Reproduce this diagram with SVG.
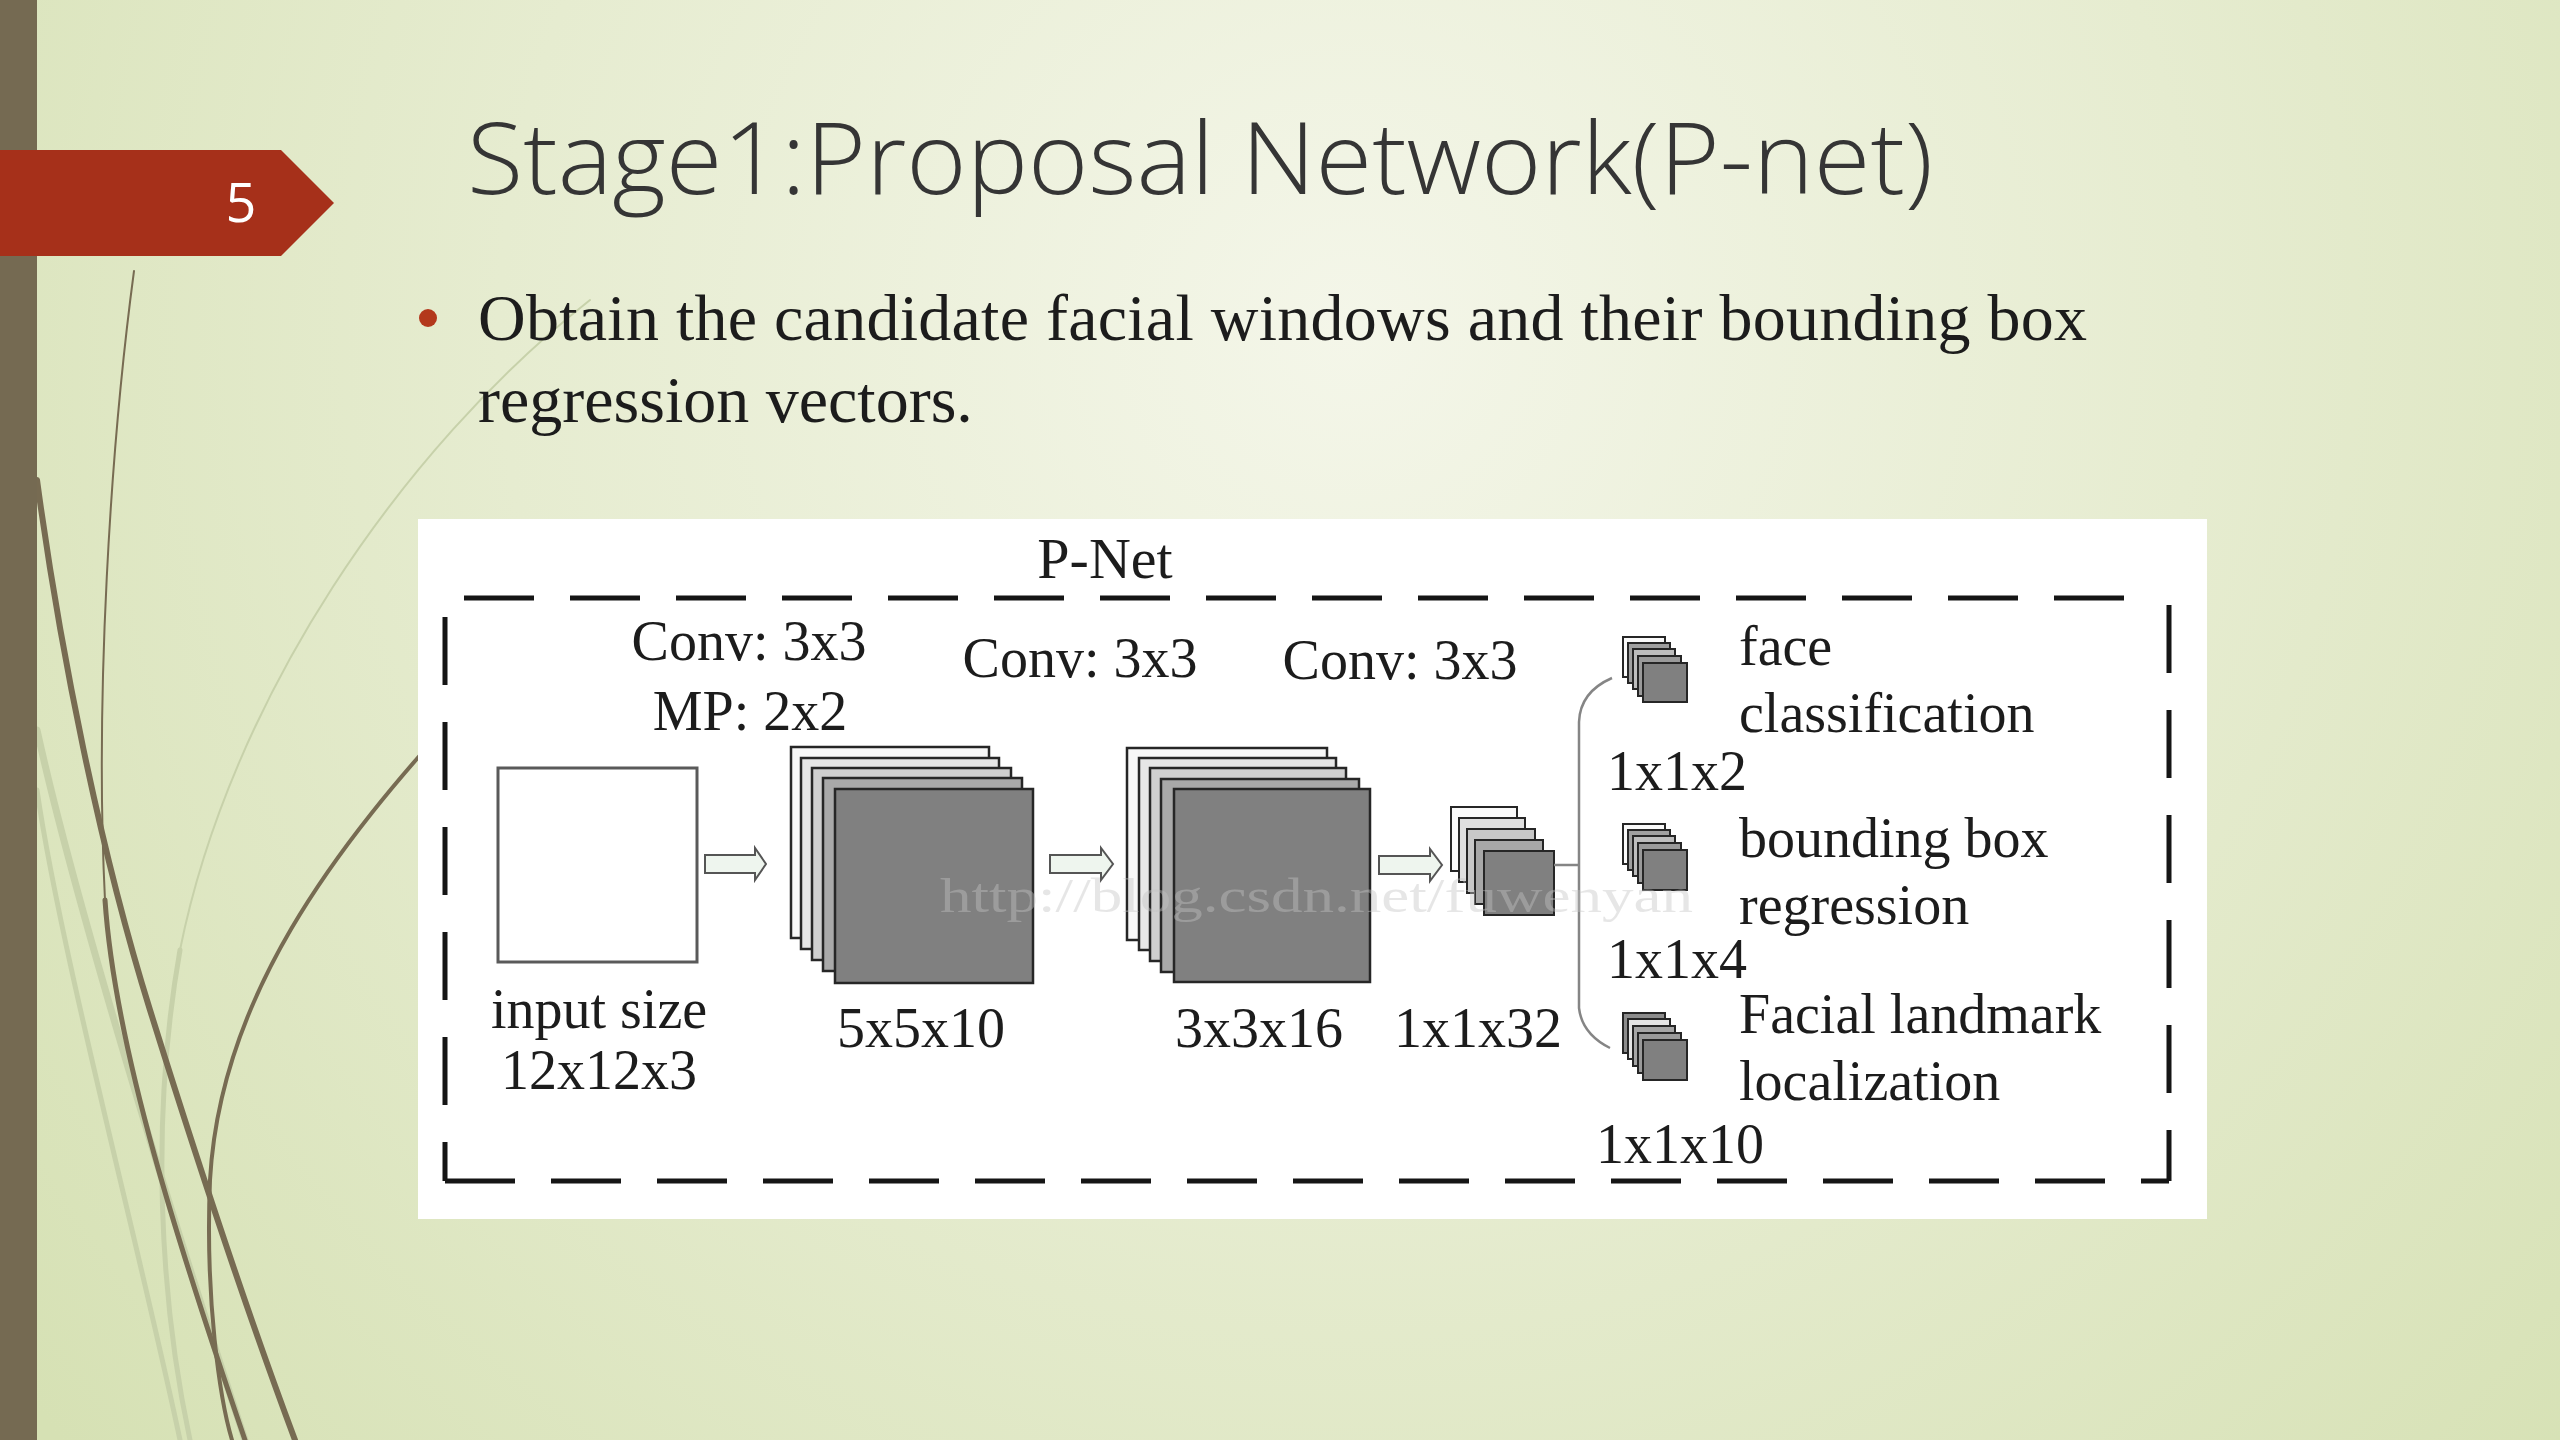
<svg xmlns="http://www.w3.org/2000/svg" width="2560" height="1440" viewBox="0 0 2560 1440">
<defs>
<radialGradient id="bg" cx="1350" cy="330" r="1700" gradientUnits="userSpaceOnUse">
<stop offset="0" stop-color="#f4f6e9"/>
<stop offset="0.5" stop-color="#e6ecd0"/>
<stop offset="1" stop-color="#d6e1b4"/>
</radialGradient>
<style>
.serif{font-family:"Liberation Serif","Times New Roman",serif;fill:#1c1c1c}
.d{font-size:56px}
.mid{text-anchor:middle}
.lay{stroke:#262626;stroke-width:2.5}
.sl{stroke:#262626;stroke-width:2}
.arr{fill:#eef5ee;stroke:#555;stroke-width:2}
.dash{fill:none;stroke:#151515;stroke-width:5}
.brown{fill:none;stroke:#776b52;stroke-linecap:round}
.green{fill:none;stroke:#c7d1aa;stroke-linecap:round}
.wm{font-family:"Liberation Serif","Times New Roman",serif;font-size:48px;fill:#c4c4c4;fill-opacity:0.42}
</style>
</defs>
<rect x="0" y="0" width="2560" height="1440" fill="url(#bg)"/>
<g id="decor">
<path class="green" stroke-width="7" d="M37,730 C70,880 150,1150 245,1440"/>
<path class="green" stroke-width="5" d="M37,790 C60,950 140,1250 180,1440"/>
<path class="green" stroke-width="2" d="M590,300 C400,450 230,700 180,950 C150,1120 160,1300 190,1440"/>
<path class="green" stroke-width="5" d="M180,950 C150,1120 160,1300 190,1440"/>
<path class="brown" stroke-width="2" d="M134,271 C110,450 95,700 105,900 C115,1050 180,1250 245,1440"/>
<path class="brown" stroke-width="5" d="M105,900 C115,1050 180,1250 245,1440"/>
<path class="brown" stroke-width="6" d="M37,480 C60,650 100,850 150,1010 C200,1170 250,1320 295,1440"/>
<path class="brown" stroke-width="4" d="M470,700 C330,850 220,1000 210,1180 C205,1300 220,1400 232,1440"/>
</g>
<rect x="0" y="0" width="37" height="1440" fill="#756a52"/>
<g id="slide-number">
<path d="M0,150 H281 L334,203 L281,256 H0 Z" fill="#a6301a"/>
<text x="241" y="222" text-anchor="middle" font-family="'Open Sans','DejaVu Sans',sans-serif" font-size="54" fill="#ffffff">5</text>
</g>
<text id="title" x="467" y="194" font-family="'Open Sans','DejaVu Sans',sans-serif" font-weight="300" font-size="100" fill="#353535" textLength="1466" lengthAdjust="spacingAndGlyphs">Stage1:Proposal Network(P-net)</text>
<g id="bullet">
<circle cx="428" cy="318" r="9" fill="#b3381c"/>
<text class="serif" x="478" y="340" font-size="66" textLength="1609">Obtain the candidate facial windows and their bounding box</text>
<text class="serif" x="478" y="422" font-size="66">regression vectors.</text>
</g>
<rect id="panel" x="418" y="519" width="1789" height="700" fill="#ffffff"/>
<g id="frame">
<path class="dash" d="M464,598 H2145" stroke-dasharray="70 36"/>
<path class="dash" d="M445,617 V1181" stroke-dasharray="68 37"/>
<path class="dash" d="M2169,605 V1181" stroke-dasharray="68 37"/>
<path class="dash" d="M445,1181 H2169" stroke-dasharray="70 36"/>
<text class="serif mid" x="1105" y="578" font-size="58">P-Net</text>
</g>
<g id="input">
<rect x="498" y="768" width="199" height="194" fill="#ffffff" stroke="#5a5a5a" stroke-width="3"/>
<text class="serif d mid" x="599" y="1028">input size</text>
<text class="serif d mid" x="599" y="1089">12x12x3</text>
</g>
<g id="conv1">
<text class="serif d mid" x="749" y="660">Conv: 3x3</text>
<text class="serif d mid" x="750" y="730">MP: 2x2</text>
</g>
<g id="fmap1">
<rect class="lay" x="791" y="747" width="198" height="191" fill="#f7f7f7"/>
<rect class="lay" x="801" y="758" width="198" height="191" fill="#e6e6e6"/>
<rect class="lay" x="812" y="768" width="199" height="192" fill="#cfcfcf"/>
<rect class="lay" x="823" y="778" width="199" height="193" fill="#a9a9a9"/>
<rect class="lay" x="835" y="789" width="198" height="194" fill="#808080"/>
<text class="serif d mid" x="921" y="1047">5x5x10</text>
</g>
<g id="conv2">
<text class="serif d mid" x="1080" y="677">Conv: 3x3</text>
</g>
<g id="fmap2">
<rect class="lay" x="1127" y="748" width="200" height="192" fill="#f7f7f7"/>
<rect class="lay" x="1139" y="758" width="197" height="192" fill="#e6e6e6"/>
<rect class="lay" x="1150" y="768" width="196" height="193" fill="#cfcfcf"/>
<rect class="lay" x="1161" y="779" width="198" height="193" fill="#a9a9a9"/>
<rect class="lay" x="1174" y="789" width="196" height="193" fill="#808080"/>
<text class="serif d mid" x="1259" y="1047">3x3x16</text>
</g>
<g id="conv3">
<text class="serif d mid" x="1400" y="679">Conv: 3x3</text>
</g>
<g id="fmap3">
<rect class="sl" x="1451" y="807" width="66" height="64" fill="#fafafa"/>
<rect class="sl" x="1459" y="818" width="66" height="64" fill="#e0e0e0"/>
<rect class="sl" x="1467" y="829" width="68" height="64" fill="#c8c8c8"/>
<rect class="sl" x="1475" y="840" width="68" height="64" fill="#a8a8a8"/>
<rect class="sl" x="1484" y="851" width="70" height="64" fill="#808080"/>
<text class="serif d mid" x="1478" y="1047">1x1x32</text>
</g>
<g id="out-face">
<rect class="sl" x="1623" y="637" width="42" height="40" fill="#fafafa"/>
<rect class="sl" x="1628" y="643" width="42" height="40" fill="#a0a0a0"/>
<rect class="sl" x="1633" y="649" width="42" height="40" fill="#bdbdbd"/>
<rect class="sl" x="1638" y="656" width="43" height="40" fill="#9a9a9a"/>
<rect class="sl" x="1643" y="663" width="44" height="39" fill="#808080"/>
<text class="serif d" x="1739" y="665">face</text>
<text class="serif d" x="1739" y="732">classification</text>
<text class="serif d" x="1607" y="790">1x1x2</text>
</g>
<g id="out-bbox">
<rect class="sl" x="1623" y="824" width="42" height="40" fill="#fafafa"/>
<rect class="sl" x="1628" y="830" width="42" height="40" fill="#a0a0a0"/>
<rect class="sl" x="1633" y="836" width="42" height="40" fill="#bdbdbd"/>
<rect class="sl" x="1638" y="843" width="43" height="40" fill="#9a9a9a"/>
<rect class="sl" x="1643" y="850" width="44" height="40" fill="#808080"/>
<text class="serif d" x="1739" y="857">bounding box</text>
<text class="serif d" x="1739" y="924">regression</text>
<text class="serif d" x="1607" y="978">1x1x4</text>
</g>
<g id="out-landmark">
<rect class="sl" x="1623" y="1013" width="42" height="40" fill="#8c8c8c"/>
<rect class="sl" x="1628" y="1019" width="42" height="40" fill="#e4e4e4"/>
<rect class="sl" x="1633" y="1026" width="42" height="40" fill="#a6a6a6"/>
<rect class="sl" x="1638" y="1033" width="43" height="40" fill="#9a9a9a"/>
<rect class="sl" x="1643" y="1040" width="44" height="40" fill="#808080"/>
<text class="serif d" x="1739" y="1033">Facial landmark</text>
<text class="serif d" x="1739" y="1100">localization</text>
<text class="serif d" x="1596" y="1163">1x1x10</text>
</g>
<g id="connectors">
<path class="arr" d="M705,855 H755 V848 L766,864 L755,880 V873 H705 Z"/>
<path class="arr" d="M1050,855 H1101 V848 L1113,864 L1101,880 V873 H1050 Z"/>
<path class="arr" d="M1379,856 H1430 V849 L1442,865 L1430,881 V874 H1379 Z"/>
<path d="M1554,865 H1579" fill="none" stroke="#858585" stroke-width="2.5"/>
<path d="M1612,678 Q1580,692 1579,722 L1579,1008 Q1582,1034 1610,1048" fill="none" stroke="#858585" stroke-width="2.5"/>
</g>
<text id="watermark" class="wm" x="940" y="912" textLength="753" lengthAdjust="spacingAndGlyphs">http://blog.csdn.net/fuwenyan</text>
</svg>
